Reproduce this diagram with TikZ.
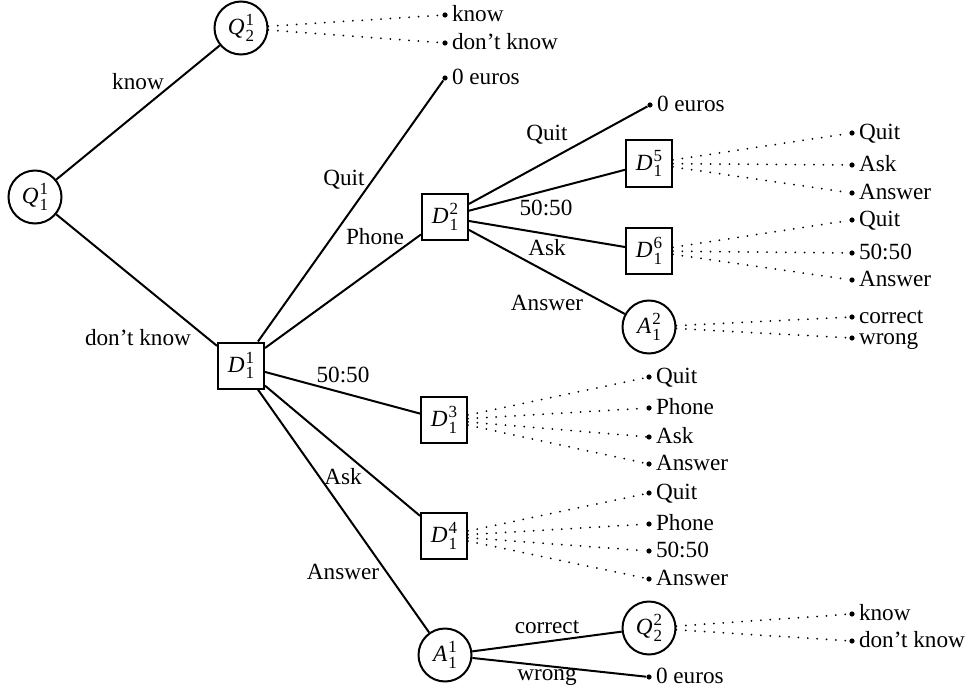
\documentclass[tikz,border=0pt]{standalone}
\usepackage{fontspec}
\setmainfont{Liberation Serif}

\newcommand{\plr}[3]{\textit{#1}\kern.4pt\raisebox{-3.3pt}{\makebox[0pt][l]{\raisebox{7.8pt}{\fontsize{8.5}{9}\selectfont #3}}\fontsize{8.5}{9}\selectfont #2}}

\tikzset{
  chance/.style={circle,draw,line width=1pt,minimum size=26.5pt,inner sep=0pt},
  decision/.style={rectangle,draw,line width=1pt,minimum width=23pt,minimum height=23pt,inner sep=0pt},
  leaf/.style={circle,fill,inner sep=0pt,minimum size=2.6pt},
  move/.style={line width=1pt},
  info/.style={line width=1pt,line cap=round,dash pattern=on 0pt off 4.7pt},
  choice/.style={anchor=base west,inner sep=0pt,xshift=1.8pt,yshift=-3.4pt},
  lbl/.style={inner sep=0pt}
}

\begin{document}
\begin{tikzpicture}[x=0.5pt,y=-0.5pt,font=\fontsize{11.6}{14}\selectfont]
\useasboundingbox (0,0) rectangle (969,690);

% chance and decision nodes
\node [chance] (q1) at (35,197) {\plr{Q}{1}{1}};
\node [chance] (q2) at (241,28) {\plr{Q}{2}{1}};
\node [decision] (d1) at (241,365.5) {\plr{D}{1}{1}};
\node [decision] (d2) at (445,217) {\plr{D}{1}{2}};
\node [decision] (d3) at (444,420) {\plr{D}{1}{3}};
\node [decision] (d4) at (444,536) {\plr{D}{1}{4}};
\node [decision] (d5) at (649,163.5) {\plr{D}{1}{5}};
\node [decision] (d6) at (649,251) {\plr{D}{1}{6}};
\node [chance] (a1) at (445,655) {\plr{A}{1}{1}};
\node [chance] (a2) at (649,327) {\plr{A}{1}{2}};
\node [chance] (q3) at (649,628) {\plr{Q}{2}{2}};

% zero payoffs
\node [leaf] (z1) at (445,78) {};
\node [choice] (z1t) at (z1.east) {0 euros};
\node [leaf] (z2) at (650,105) {};
\node [choice] (z2t) at (z2.east) {0 euros};
\node [leaf] (z3) at (649,677) {};
\node [choice] (z3t) at (z3.east) {0 euros};

% moves
\draw [move] (q1) -- (q2);
\draw [move] (q1) -- (d1);
\draw [move] (d1) -- (z1);
\draw [move] (d1) -- (d2);
\draw [move] (d1) -- (d3);
\draw [move] (d1) -- (d4);
\draw [move] (d1) -- (a1);
\draw [move] (d2) -- (z2);
\draw [move] (d2) -- (d5);
\draw [move] (d2) -- (d6);
\draw [move] (d2) -- (a2);
\draw [move] (a1) -- (q3);
\draw [move] (a1) -- (z3);

% move labels
\node [lbl] (l-know) at (138,82) {know};
\node [lbl] (l-dknow) at (138,338) {don't know};
\node [lbl] (l-quit1) at (344,180) {Quit};
\node [lbl] (l-phone) at (375,237) {Phone};
\node [lbl] (l-fifty1) at (343,375) {50:50};
\node [lbl] (l-ask1) at (343,477) {Ask};
\node [lbl] (l-answer1) at (343,572) {Answer};
\node [lbl] (l-quit2) at (547,135) {Quit};
\node [lbl] (l-fifty2) at (546,208) {50:50};
\node [lbl] (l-ask2) at (547,248) {Ask};
\node [lbl] (l-answer2) at (547,303) {Answer};
\node [lbl] (l-correct) at (547,627) {correct};
\node [lbl] (l-wrong) at (547,677) {wrong};

% continuations
\foreach \y/\t [count=\k] in {15/know,43/don't know} {
    \node [leaf] (t2-\k) at (445,\y) {};
    \node [choice] (c2-\k) at (t2-\k.east) {\t};
    \draw [info] (q2) -- (t2-\k);
}
\foreach \y/\t [count=\k] in {133/Quit,165/Ask,193/Answer} {
    \node [leaf] (t5-\k) at (852,\y) {};
    \node [choice] (c5-\k) at (t5-\k.east) {\t};
    \draw [info] (d5) -- (t5-\k);
}
\foreach \y/\t [count=\k] in {220/Quit,253/50:50,280/Answer} {
    \node [leaf] (t6-\k) at (852,\y) {};
    \node [choice] (c6-\k) at (t6-\k.east) {\t};
    \draw [info] (d6) -- (t6-\k);
}
\foreach \y/\t [count=\k] in {317/correct,338/wrong} {
    \node [leaf] (ta-\k) at (852,\y) {};
    \node [choice] (ca-\k) at (ta-\k.east) {\t};
    \draw [info] (a2) -- (ta-\k);
}
\foreach \y/\t [count=\k] in {377/Quit,408/Phone,437/Ask,464/Answer} {
    \node [leaf] (t3-\k) at (649,\y) {};
    \node [choice] (c3-\k) at (t3-\k.east) {\t};
    \draw [info] (d3) -- (t3-\k);
}
\foreach \y/\t [count=\k] in {493/Quit,524/Phone,551/50:50,579/Answer} {
    \node [leaf] (t4-\k) at (649,\y) {};
    \node [choice] (c4-\k) at (t4-\k.east) {\t};
    \draw [info] (d4) -- (t4-\k);
}
\foreach \y/\t [count=\k] in {614/know,641/don't know} {
    \node [leaf] (tq-\k) at (852,\y) {};
    \node [choice] (cq-\k) at (tq-\k.east) {\t};
    \draw [info] (q3) -- (tq-\k);
}

\end{tikzpicture}
\end{document}
